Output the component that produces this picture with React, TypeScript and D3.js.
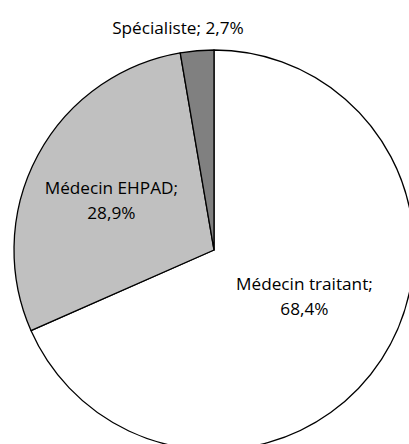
import React, { useRef, useEffect } from 'react';
import * as d3 from 'd3';

const labels = ['Médecin traitant', 'Médecin EHPAD', 'Spécialiste'];
const values = [68.4, 28.9, 2.7];
const colors = ['#ffffff', '#c0c0c0', '#808080'];

const W = 409;
const H = 444;

const App = () => {
  const svgRef = useRef<SVGSVGElement>(null);

  useEffect(() => {
    if (!svgRef.current) return;
    const svg = d3.select(svgRef.current);
    svg.selectAll('*').remove();

    const cx = 214;
    const cy = 250;
    const radius = 200;

    const g = svg.append('g').attr('transform', `translate(${cx},${cy})`);

    const data = labels.map((name, i) => ({ name, value: values[i], color: colors[i] }));

    const pie = d3.pie<any>()
      .value(d => d.value)
      .sort(null)
      .startAngle(0)
      .endAngle(2 * Math.PI);

    const arc = d3.arc<any>().innerRadius(0).outerRadius(radius);

    const slices = pie(data);

    g.selectAll('path')
      .data(slices)
      .enter()
      .append('path')
      .attr('d', arc)
      .attr('fill', d => d.data.color)
      .attr('stroke', '#000')
      .attr('stroke-width', 1.3)
      .attr('stroke-linejoin', 'round');

    // label nudges, Excel places its boxes a bit off the centroid
    const nudge = [[5, -11], [-4, 2], [-17, 2]];

    slices.forEach(d => {
      const mid = (d.startAngle + d.endAngle) / 2;
      const small = d.data.value < 5;
      const lr = small ? radius + 25 : (d.index === 0 ? 102 : 112);
      const x = Math.sin(mid) * lr + nudge[d.index][0];
      const y = -Math.cos(mid) * lr + nudge[d.index][1];
      const pct = d.data.value.toFixed(1).replace('.', ',') + '%';
      const t = g.append('text')
        .attr('x', x)
        .attr('y', y)
        .attr('text-anchor', 'middle')
        .attr('font-family', '"Open Sans", sans-serif')
        .attr('font-size', 17.2)
        .attr('fill', '#000');
      if (small) {
        t.attr('dy', '0.35em').text(`${d.data.name}; ${pct}`);
      } else {
        t.append('tspan').attr('x', x).attr('dy', '-0.3em').text(`${d.data.name};`);
        t.append('tspan').attr('x', x).attr('dy', '1.45em').text(pct);
      }
    });
  }, []);

  return (
    <svg
      ref={svgRef}
      width={W}
      height={H}
      style={{ position: 'absolute', left: 0, top: 0, background: '#fff' }}
    />
  );
};

export default App;
